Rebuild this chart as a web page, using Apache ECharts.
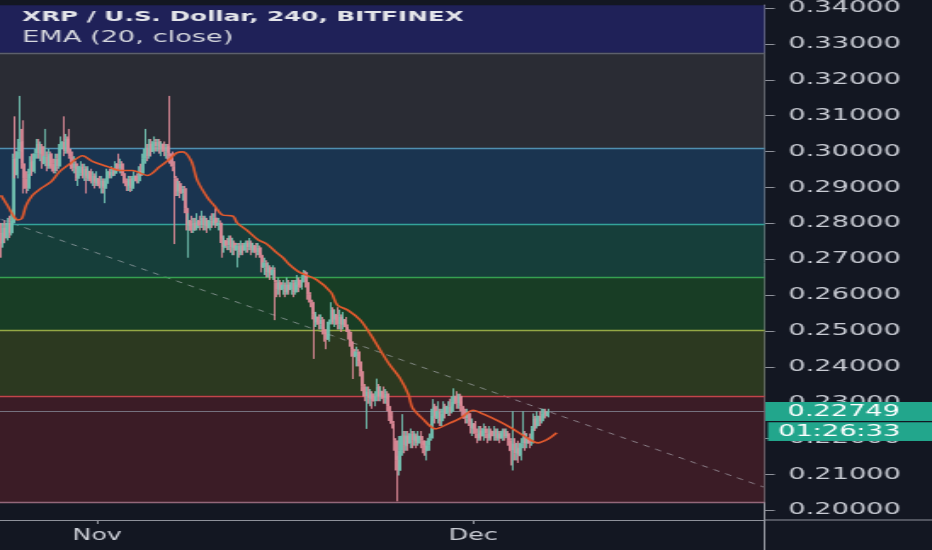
<!DOCTYPE html>
<html>
<head>
<meta charset="utf-8">
<script src="https://cdn.jsdelivr.net/npm/echarts@6/dist/echarts.min.js"></script>
<style>
html,body{margin:0;padding:0;background:#131722;overflow:hidden;width:932px;height:550px;}
#chart{width:548px;height:550px;transform:scaleX(1.70073);transform-origin:0 0;}
</style>
</head>
<body>
<div id="chart"></div>
<script>
// ---------- texts ----------
const titleText = 'XRP / U.S. Dollar, 240, BITFINEX';
const indicatorText = 'EMA (20, close)';
const lastPrice = 0.22749;
const countdownText = '01:26:33';
const monthNames = ['Jan','Feb','Mar','Apr','May','Jun','Jul','Aug','Sep','Oct','Nov','Dec'];

// ---------- time categories (4h candles) ----------
const startTime = Date.UTC(2019, 9, 24, 8, 0);
const candleHours = 4;
const categoryCount = 366;
function pad(n){return (n<10?'0':'')+n;}
const categories = [];
for (let i = 0; i < categoryCount; i++) {
  const d = new Date(startTime + i * candleHours * 3600000);
  categories.push(d.getUTCFullYear()+'-'+pad(d.getUTCMonth()+1)+'-'+pad(d.getUTCDate())+' '+pad(d.getUTCHours())+':'+pad(d.getUTCMinutes()));
}

// ---------- price axis ticks ----------
const yTicks = [0.20,0.21,0.22,0.23,0.24,0.25,0.26,0.27,0.28,0.29,0.30,0.31,0.32,0.33,0.34];
const yMin = 0.1973, yMax = 0.3408;

// ---------- OHLC ----------
const opens = [
0.2773,0.2745,0.2787,0.2759,0.2801,0.2773,0.2801,0.2980,0.2935,0.3000,
0.3028,0.2966,0.2925,0.2897,0.2939,0.2973,0.2945,0.2994,0.3021,0.2994,
0.3014,0.2966,0.2987,0.2959,0.2994,0.2966,0.2945,0.2980,0.2959,0.3007,
0.3028,0.3000,0.3035,0.3007,0.2987,0.2952,0.2966,0.2925,0.2939,0.2959,
0.2932,0.2952,0.2925,0.2945,0.2918,0.2932,0.2911,0.2925,0.2904,0.2918,
0.2897,0.2911,0.2945,0.2932,0.2945,0.2939,0.2966,0.2952,0.2966,0.2939,
0.2918,0.2904,0.2925,0.2897,0.2918,0.2932,0.2918,0.2945,0.2939,0.2980,
0.3007,0.2987,0.3021,0.3000,0.3028,0.3014,0.3028,0.3007,0.3021,0.3000,
0.3014,0.2994,0.2987,0.2959,0.2925,0.2890,0.2911,0.2883,0.2897,0.2842,
0.2794,0.2808,0.2780,0.2801,0.2787,0.2808,0.2794,0.2815,0.2794,0.2808,
0.2787,0.2808,0.2801,0.2815,0.2794,0.2801,0.2759,0.2732,0.2752,0.2738,
0.2759,0.2732,0.2745,0.2725,0.2738,0.2718,0.2738,0.2725,0.2745,0.2732,
0.2745,0.2725,0.2738,0.2718,0.2732,0.2711,0.2677,0.2690,0.2663,0.2677,
0.2656,0.2670,0.2635,0.2615,0.2635,0.2615,0.2628,0.2608,0.2628,0.2615,
0.2635,0.2608,0.2628,0.2642,0.2621,0.2649,0.2663,0.2635,0.2601,0.2580,
0.2546,0.2525,0.2539,0.2518,0.2532,0.2504,0.2490,0.2476,0.2525,0.2559,
0.2532,0.2546,0.2518,0.2539,0.2518,0.2532,0.2511,0.2497,0.2470,0.2449,
0.2428,0.2442,0.2414,0.2387,0.2345,0.2318,0.2332,0.2311,0.2325,0.2304,
0.2318,0.2345,0.2318,0.2332,0.2311,0.2325,0.2290,0.2263,0.2242,0.2194,
0.2139,0.2111,0.2166,0.2207,0.2180,0.2207,0.2187,0.2214,0.2194,0.2207,
0.2187,0.2207,0.2194,0.2180,0.2166,0.2180,0.2201,0.2263,0.2290,0.2256,
0.2276,0.2249,0.2270,0.2290,0.2270,0.2290,0.2276,0.2304,0.2318,0.2297,
0.2318,0.2290,0.2276,0.2256,0.2270,0.2249,0.2228,0.2242,0.2214,0.2201,
0.2221,0.2207,0.2228,0.2214,0.2201,0.2221,0.2207,0.2221,0.2201,0.2214,
0.2201,0.2221,0.2207,0.2214,0.2194,0.2166,0.2187,0.2159,0.2173,0.2152,
0.2187,0.2214,0.2187,0.2201,0.2187,0.2228,0.2256,0.2235,0.2263,0.2249,
0.2270,0.2276,0.2263];
const closes = [
0.2745,0.2787,0.2759,0.2801,0.2773,0.2808,0.2980,0.2935,0.3000,0.3028,
0.2966,0.2925,0.2897,0.2939,0.2973,0.2945,0.2994,0.3021,0.2994,0.3014,
0.2966,0.2987,0.2959,0.2994,0.2966,0.2945,0.2980,0.2959,0.3007,0.3028,
0.3000,0.3035,0.3007,0.2987,0.2952,0.2966,0.2925,0.2939,0.2959,0.2932,
0.2952,0.2925,0.2945,0.2918,0.2932,0.2911,0.2925,0.2904,0.2918,0.2897,
0.2911,0.2945,0.2932,0.2945,0.2939,0.2966,0.2952,0.2966,0.2939,0.2918,
0.2904,0.2925,0.2897,0.2918,0.2932,0.2918,0.2945,0.2939,0.2980,0.3007,
0.2987,0.3021,0.3000,0.3028,0.3014,0.3028,0.3007,0.3021,0.3000,0.3014,
0.2994,0.2987,0.2959,0.2925,0.2890,0.2911,0.2883,0.2897,0.2842,0.2794,
0.2808,0.2780,0.2801,0.2787,0.2808,0.2794,0.2815,0.2794,0.2808,0.2787,
0.2808,0.2801,0.2815,0.2794,0.2801,0.2759,0.2732,0.2752,0.2738,0.2759,
0.2732,0.2745,0.2725,0.2738,0.2718,0.2738,0.2725,0.2745,0.2732,0.2745,
0.2725,0.2738,0.2718,0.2732,0.2711,0.2677,0.2690,0.2663,0.2677,0.2656,
0.2670,0.2635,0.2615,0.2635,0.2615,0.2628,0.2608,0.2628,0.2615,0.2635,
0.2608,0.2628,0.2642,0.2621,0.2649,0.2663,0.2635,0.2601,0.2580,0.2546,
0.2525,0.2539,0.2518,0.2532,0.2504,0.2490,0.2476,0.2525,0.2559,0.2532,
0.2546,0.2518,0.2539,0.2518,0.2532,0.2511,0.2497,0.2470,0.2449,0.2428,
0.2442,0.2414,0.2387,0.2345,0.2318,0.2332,0.2311,0.2325,0.2304,0.2318,
0.2345,0.2318,0.2332,0.2311,0.2325,0.2290,0.2263,0.2242,0.2194,0.2139,
0.2111,0.2166,0.2207,0.2180,0.2207,0.2187,0.2214,0.2194,0.2207,0.2187,
0.2207,0.2194,0.2180,0.2166,0.2180,0.2201,0.2263,0.2290,0.2256,0.2276,
0.2249,0.2270,0.2290,0.2270,0.2290,0.2276,0.2304,0.2318,0.2297,0.2318,
0.2290,0.2276,0.2256,0.2270,0.2249,0.2228,0.2242,0.2214,0.2201,0.2221,
0.2207,0.2228,0.2214,0.2201,0.2221,0.2207,0.2221,0.2201,0.2214,0.2201,
0.2221,0.2207,0.2214,0.2194,0.2166,0.2187,0.2159,0.2173,0.2152,0.2187,
0.2214,0.2187,0.2201,0.2187,0.2228,0.2256,0.2235,0.2263,0.2249,0.2270,
0.2276,0.2263,0.2275];
const lows = [
0.2704,0.2732,0.2745,0.2752,0.2759,0.2766,0.2794,0.2925,0.2925,0.2980,
0.2952,0.2883,0.2883,0.2890,0.2925,0.2932,0.2939,0.2980,0.2980,0.2973,
0.2952,0.2959,0.2945,0.2952,0.2952,0.2939,0.2939,0.2945,0.2952,0.2994,
0.2987,0.2994,0.2994,0.2980,0.2945,0.2939,0.2918,0.2904,0.2932,0.2925,
0.2918,0.2883,0.2918,0.2911,0.2904,0.2897,0.2904,0.2897,0.2883,0.2883,
0.2856,0.2904,0.2925,0.2925,0.2932,0.2932,0.2945,0.2939,0.2932,0.2911,
0.2890,0.2890,0.2887,0.2890,0.2904,0.2911,0.2911,0.2932,0.2932,0.2966,
0.2973,0.2980,0.2987,0.2994,0.3000,0.3000,0.2994,0.2987,0.2987,0.2980,
0.2973,0.2966,0.2945,0.2742,0.2876,0.2876,0.2870,0.2863,0.2828,0.2780,
0.2704,0.2773,0.2773,0.2780,0.2780,0.2780,0.2787,0.2780,0.2780,0.2773,
0.2780,0.2787,0.2794,0.2787,0.2780,0.2745,0.2704,0.2718,0.2725,0.2725,
0.2718,0.2711,0.2711,0.2677,0.2704,0.2711,0.2711,0.2718,0.2718,0.2725,
0.2711,0.2718,0.2704,0.2711,0.2704,0.2663,0.2656,0.2649,0.2649,0.2642,
0.2642,0.2530,0.2594,0.2601,0.2594,0.2601,0.2594,0.2601,0.2601,0.2601,
0.2594,0.2601,0.2615,0.2608,0.2615,0.2635,0.2621,0.2587,0.2566,0.2532,
0.2422,0.2511,0.2504,0.2504,0.2490,0.2470,0.2449,0.2470,0.2518,0.2518,
0.2511,0.2504,0.2504,0.2497,0.2504,0.2497,0.2476,0.2456,0.2428,0.2366,
0.2401,0.2401,0.2373,0.2332,0.2304,0.2227,0.2297,0.2290,0.2283,0.2290,
0.2304,0.2304,0.2304,0.2297,0.2297,0.2276,0.2249,0.2228,0.2166,0.2111,
0.2025,0.2097,0.2152,0.2159,0.2166,0.2166,0.2173,0.2173,0.2180,0.2173,
0.2180,0.2173,0.2159,0.2152,0.2139,0.2166,0.2194,0.2249,0.2242,0.2242,
0.2235,0.2235,0.2256,0.2256,0.2263,0.2263,0.2270,0.2290,0.2283,0.2283,
0.2276,0.2263,0.2242,0.2242,0.2235,0.2214,0.2207,0.2201,0.2187,0.2194,
0.2194,0.2194,0.2201,0.2187,0.2194,0.2194,0.2194,0.2194,0.2194,0.2187,
0.2194,0.2194,0.2201,0.2180,0.2125,0.2111,0.2139,0.2139,0.2132,0.2139,
0.2173,0.2166,0.2173,0.2173,0.2180,0.2221,0.2221,0.2228,0.2235,0.2242,
0.2256,0.2256,0.2259];
const highs = [
0.2801,0.2801,0.2808,0.2815,0.2821,0.2828,0.2994,0.3098,0.3035,0.3155,
0.3063,0.3087,0.2945,0.2952,0.2987,0.2994,0.3007,0.3035,0.3035,0.3028,
0.3021,0.3063,0.3000,0.3007,0.3000,0.2980,0.2994,0.2994,0.3021,0.3042,
0.3098,0.3049,0.3042,0.3063,0.3000,0.2987,0.2973,0.2959,0.2973,0.2966,
0.2966,0.2959,0.2959,0.2952,0.2945,0.2939,0.2945,0.2932,0.2932,0.2925,
0.2925,0.2952,0.2952,0.2959,0.2952,0.2973,0.2994,0.2980,0.2973,0.2945,
0.2925,0.2932,0.2932,0.2932,0.2945,0.2939,0.2959,0.2966,0.2994,0.3063,
0.3021,0.3035,0.3035,0.3042,0.3035,0.3035,0.3035,0.3028,0.3028,0.3021,
0.3021,0.3155,0.3000,0.2973,0.2932,0.2918,0.2918,0.2904,0.2904,0.2849,
0.2828,0.2821,0.2815,0.2815,0.2828,0.2821,0.2835,0.2821,0.2821,0.2815,
0.2821,0.2828,0.2828,0.2842,0.2815,0.2808,0.2766,0.2766,0.2759,0.2766,
0.2766,0.2759,0.2752,0.2745,0.2745,0.2752,0.2745,0.2752,0.2752,0.2759,
0.2752,0.2745,0.2745,0.2745,0.2738,0.2718,0.2704,0.2697,0.2690,0.2683,
0.2683,0.2677,0.2642,0.2649,0.2642,0.2642,0.2635,0.2649,0.2642,0.2642,
0.2642,0.2642,0.2656,0.2649,0.2656,0.2670,0.2668,0.2642,0.2608,0.2587,
0.2553,0.2553,0.2546,0.2546,0.2539,0.2511,0.2497,0.2532,0.2580,0.2566,
0.2559,0.2566,0.2559,0.2546,0.2553,0.2539,0.2518,0.2504,0.2476,0.2456,
0.2456,0.2449,0.2421,0.2394,0.2352,0.2345,0.2345,0.2338,0.2332,0.2332,
0.2367,0.2352,0.2345,0.2345,0.2338,0.2332,0.2297,0.2276,0.2249,0.2201,
0.2152,0.2207,0.2268,0.2221,0.2221,0.2221,0.2228,0.2221,0.2221,0.2214,
0.2221,0.2221,0.2207,0.2194,0.2194,0.2214,0.2283,0.2310,0.2297,0.2304,
0.2283,0.2283,0.2304,0.2297,0.2304,0.2311,0.2318,0.2340,0.2332,0.2325,
0.2325,0.2304,0.2283,0.2283,0.2276,0.2256,0.2256,0.2249,0.2228,0.2235,
0.2235,0.2242,0.2235,0.2228,0.2235,0.2228,0.2235,0.2228,0.2228,0.2221,
0.2228,0.2228,0.2228,0.2221,0.2201,0.2276,0.2201,0.2187,0.2194,0.2201,
0.2276,0.2221,0.2214,0.2214,0.2235,0.2270,0.2263,0.2276,0.2276,0.2283,
0.2283,0.2283,0.2283];

// ---------- EMA(20) as drawn: [candle index, value] ----------
const emaPoints = [
[0,0.2878],[3,0.2850],[6,0.2820],[8,0.2809],[10,0.2814],[12,0.2850],[15,0.2878],[19,0.2897],
[24,0.2916],[28,0.2944],[33,0.2966],[39,0.2988],[44,0.2972],[51,0.2958],[57,0.2947],[63,0.2947],
[70,0.2933],[76,0.2958],[81,0.2980],[84,0.2996],[87,0.2999],[91,0.2974],[94,0.2919],[99,0.2870],
[102,0.2850],[106,0.2823],[111,0.2820],[113,0.2801],[118,0.2779],[123,0.2754],[127,0.2743],
[132,0.2718],[135,0.2704],[138,0.2685],[143,0.2663],[151,0.2643],[158,0.2607],[161,0.2572],
[166,0.2558],[172,0.2530],[177,0.2489],[182,0.2442],[186,0.2406],[191,0.2368],[195,0.2323],
[197,0.2285],[202,0.2254],[208,0.2227],[214,0.2241],[220,0.2257],[226,0.2279],[231,0.2268],
[238,0.2249],[245,0.2227],[251,0.2205],[257,0.2188],[262,0.2199],[266,0.2216]];

// ---------- dashed trend line ----------
const trendPoints = [[0,0.2811],[365,0.2065]];

// ---------- Fibonacci retracement drawing ----------
const fibLevels = [0.2023,0.2319,0.2501,0.2649,0.2797,0.3008,0.3275];
const fibLineColors = ['#93677a','#c2454a','#94a845','#35a050','#33a39a','#4f8fb0','#5d606c'];
const fibFillColors = ['#3b1c26','#2c3920','#183d25','#163e3a','#1a3450','#2a2c34','#1f2158'];

// ---------- colours ----------
const upColor = '#72c2b1';
const downColor = '#de8b98';
const axisColor = '#8f929b';
const labelColor = '#c9ccd4';
const font = 'DejaVu Sans';

function isMonthStart(index, value){ return /-01 00:00$/.test(value); }
function monthName(value){ return monthNames[parseInt(value.slice(5,7),10)-1]; }

const ohlc = opens.map((o,i)=>[o, closes[i], lows[i], highs[i]]);

const bandData = fibLevels.map((lv,k)=>[
  {yAxis: lv, itemStyle:{color: fibFillColors[k]}},
  {yAxis: k < fibLevels.length-1 ? fibLevels[k+1] : yMax}
]);
const levelLines = fibLevels.map((lv,k)=>({yAxis: lv, lineStyle:{color: fibLineColors[k], width:1.3, type:'solid'}}));
levelLines.push({yAxis: lastPrice, lineStyle:{color:'#75727f', width:1, type:'solid'}});

const gridRight = 98.5;
const gridBottom = 30;

const chart = echarts.init(document.getElementById('chart'));
chart.setOption({
  animation:false,
  backgroundColor:'#131722',
  textStyle:{fontFamily:font},
  title:[
    {text:titleText, left:13, top:8, padding:0,
     textStyle:{color:'#e4e5ea', fontSize:14.5, fontWeight:'bold', lineHeight:18, fontFamily:font}},
    {text:indicatorText, left:13, top:29, padding:0,
     textStyle:{color:'#d6d8de', fontSize:16, fontWeight:'normal', lineHeight:18, fontFamily:font}}
  ],
  grid:{left:0, right:gridRight, top:0, bottom:gridBottom},
  xAxis:{
    type:'category', data:categories, boundaryGap:true,
    axisLine:{show:true, lineStyle:{color:axisColor, width:1}},
    axisTick:{show:true, alignWithLabel:true, interval:isMonthStart, length:4, lineStyle:{color:axisColor}},
    axisLabel:{interval:isMonthStart, formatter:monthName, color:labelColor, fontSize:15, margin:9, fontFamily:font},
    splitLine:{show:false}
  },
  yAxis:{
    type:'value', position:'right', min:yMin, max:yMax,
    axisLine:{show:true, lineStyle:{color:axisColor, width:1}},
    axisTick:{show:true, length:6, customValues:yTicks, lineStyle:{color:axisColor}},
    axisLabel:{customValues:yTicks, formatter:v=>v.toFixed(5), color:labelColor, fontSize:16, margin:14, fontFamily:font},
    splitLine:{show:false}
  },
  series:[
    {type:'line', name:'trend', data:trendPoints, z:3, symbol:'none', silent:true,
     lineStyle:{color:'rgba(190,192,200,0.6)', width:1, type:[4,4]},
     markArea:{silent:true, data:bandData},
     markLine:{silent:true, symbol:'none', precision:5, label:{show:false}, data:levelLines}},
    {type:'candlestick', name:'XRPUSD', data:ohlc, z:10, barWidth:1.4,
     itemStyle:{color:upColor, color0:downColor, borderColor:upColor, borderColor0:downColor, borderWidth:1, opacity:0.9}},
    {type:'line', name:'EMA', data:emaPoints, z:11, symbol:'none', smooth:0.3, silent:true,
     lineStyle:{color:'#e35a2e', width:1.6}}
  ]
});

// price label boxes on the axis, positioned through the y scale
const W = chart.getWidth(), H = chart.getHeight();
const axisX = W - gridRight;
const axisY = H - gridBottom;
const yP = chart.convertToPixel({yAxisIndex:0}, lastPrice);
chart.setOption({
  graphic:[
    {type:'line', z:100, shape:{x1:axisX, y1:axisY, x2:W, y2:axisY}, style:{stroke:axisColor, lineWidth:1}},
    {type:'line', z:100, shape:{x1:axisX, y1:axisY, x2:axisX, y2:H}, style:{stroke:axisColor, lineWidth:1}},
    {type:'rect', z:100, shape:{x:axisX+0.5, y:yP-9.6, width:W-axisX, height:19}, style:{fill:'#22a68c'}},
    {type:'text', z:101, x:axisX+13.5, y:yP, style:{text:lastPrice.toFixed(5), fill:'#ffffff', font:'16px "DejaVu Sans"', verticalAlign:'middle', textVerticalAlign:'middle'}},
    {type:'rect', z:100, shape:{x:axisX+2, y:yP+10.6, width:W-axisX, height:18.6}, style:{fill:'#22a68c'}},
    {type:'text', z:101, x:axisX+8, y:yP+20, style:{text:countdownText, fill:'#ffffff', font:'16px "DejaVu Sans"', verticalAlign:'middle', textVerticalAlign:'middle'}}
  ]
});
</script>
</body>
</html>
